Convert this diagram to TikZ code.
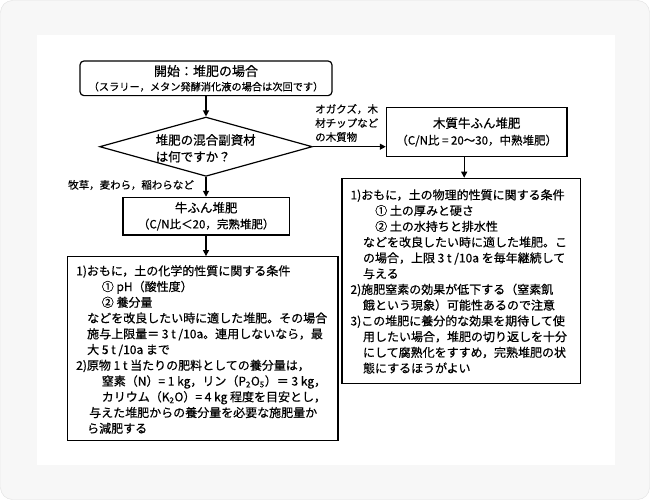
\documentclass[tikz,border=0pt]{standalone}
\usepackage{fontspec}
\setmainfont{Noto Sans CJK JP}[FakeBold=0.5]
\usetikzlibrary{shapes.geometric,arrows.meta,calc}
\begin{document}
\begin{tikzpicture}[x=1pt,y=-1pt,
  box/.style={draw=black,line width=1.2pt,inner sep=0pt,text=black},
  txt/.style={text=black,inner sep=0pt},
  arr/.style={draw=black,line width=1.2pt,-{Triangle[length=6pt,width=6pt]}},
  f12/.style={font=\fontsize{12}{15.75}\selectfont},
]
\useasboundingbox (0,0) rectangle (650,500);
\draw[fill=gray!6,draw=gray!25,rounded corners=12pt] (0.5,0.5) rectangle (649.5,499.5);
\fill[white] (36.7,35) rectangle (615,465);

% start
\node[box,rounded corners=4pt,minimum width=252pt,minimum height=34.7pt,align=center,
  font=\fontsize{13}{14.6}\selectfont] (start) at (206,78.3)
  {開始：堆肥の場合\\{\fontsize{10.2}{12}\selectfont（スラリー，メタン発酵消化液の場合は次回です）}};

% decision
\node[draw=black,line width=1.2pt,diamond,minimum width=212.7pt,minimum height=59.3pt,inner sep=0pt] (dec) at (206,146.7) {};
\node[txt,anchor=west,align=left,font=\fontsize{12.5}{16.7}\selectfont] (dectext) at (155.5,148.3)
  {堆肥の混合副資材\\は何ですか？};

% labels
\node[txt,anchor=west,font=\fontsize{10.5}{14}\selectfont] (lab1) at (68,185) {牧草，麦わら，稲わらなど};
\node[txt,anchor=west,align=left,font=\fontsize{10.5}{14}\selectfont] (lab2) at (315,123)
  {オガクズ，木\\材チップなど\\の木質物};

% wood box
\node[box,minimum width=180.6pt,minimum height=49.4pt,align=center,font=\fontsize{12.5}{16.7}\selectfont] (wood) at (476.7,132)
  {木質牛ふん堆肥\\{\fontsize{11.5}{14}\selectfont（C/N比 = 20～30，中熟堆肥）}};

% cow box
\node[box,minimum width=166.4pt,minimum height=37.7pt,align=center,font=\fontsize{12.5}{16}\selectfont] (cow) at (206.2,216.2)
  {牛ふん堆肥\\{\fontsize{11.5}{14}\selectfont（C/N比＜20，完熟堆肥）}};

% left big box
\node[box,minimum width=270.4pt,minimum height=184pt] (lbig) at (202.8,348.7) {};
\node[txt,f12,anchor=west,align=left] (lbigtext) at (76,349.5)
  {1)おもに，土の化学的性質に関する条件\\
   \hspace*{25.6pt}① pH（酸性度）\\
   \hspace*{25.6pt}② 養分量\\
   \hspace*{11pt}などを改良したい時に適した堆肥。その場合\\
   \hspace*{11pt}施与上限量＝ 3 t /10a。連用しないなら，最\\
   \hspace*{11pt}大 5 t /10a まで\\
   2)原物 1 t 当たりの肥料としての養分量は，\\
   \hspace*{25.6pt}窒素（N）= 1 kg，リン（P\textsubscript{2}O\textsubscript{5}）＝ 3 kg，\\
   \hspace*{25.6pt}カリウム（K\textsubscript{2}O）= 4 kg 程度を目安とし，\\
   \hspace*{13pt}与えた堆肥からの養分量を必要な施肥量か\\
   \hspace*{11pt}ら減肥する};

% right big box
\node[box,minimum width=238.4pt,minimum height=205pt] (rbig) at (461.2,280.8) {};
\node[txt,f12,anchor=west,align=left] (rbigtext) at (350.3,281.4)
  {1)おもに，土の物理的性質に関する条件\\
   \hspace*{24.7pt}① 土の厚みと硬さ\\
   \hspace*{24.7pt}② 土の水持ちと排水性\\
   \hspace*{12.5pt}などを改良したい時に適した堆肥。こ\\
   \hspace*{12.5pt}の場合，上限 3 t /10a を毎年継続して\\
   \hspace*{12.5pt}与える\\
   2)施肥窒素の効果が低下する（窒素飢\\
   \hspace*{12.5pt}餓という現象）可能性あるので注意\\
   3)この堆肥に養分的な効果を期待して使\\
   \hspace*{12.5pt}用したい場合，堆肥の切り返しを十分\\
   \hspace*{12.5pt}にして腐熟化をすすめ，完熟堆肥の状\\
   \hspace*{12.5pt}態にするほうがよい};

% connectors
\draw[arr] (start.south) -- (dec.north);
\draw[arr] (dec.south) -- (dec.south |- cow.north);
\draw[arr] (cow.south -| dec.south) -- (dec.south |- lbig.north);
\draw[arr] (dec.east) -- (dec.east -| wood.west);
\draw[arr] ([xshift=3pt]rbig.north |- wood.south) -- ([xshift=3pt]rbig.north);
\end{tikzpicture}
\end{document}
